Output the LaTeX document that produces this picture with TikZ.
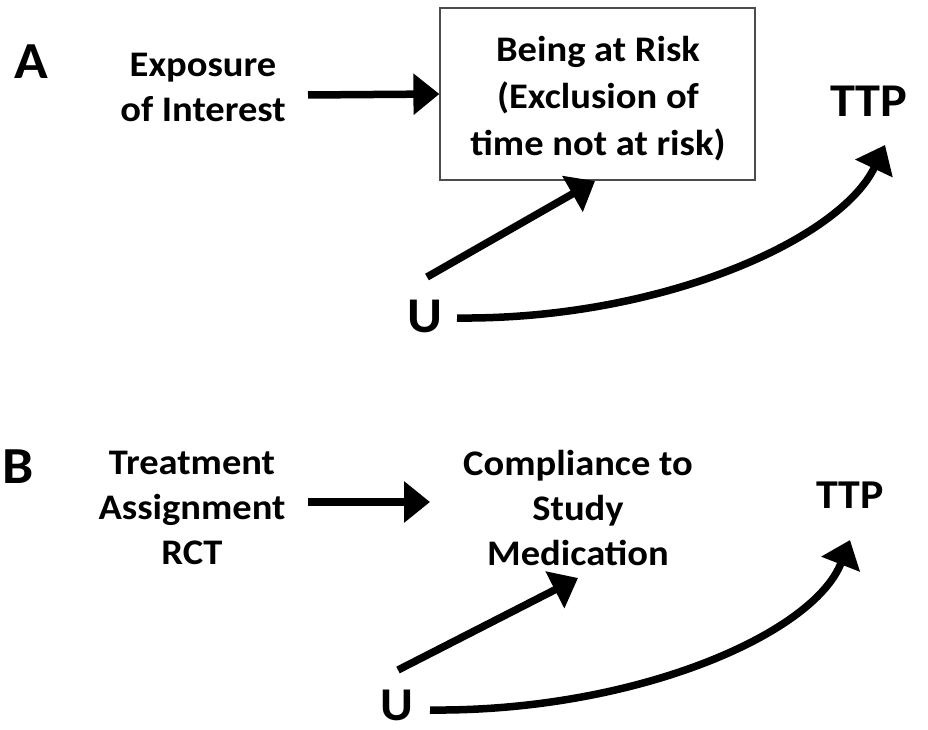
\documentclass[tikz,border=0pt]{standalone}
\usepackage{fontspec}
\setmainfont{Carlito}[FakeStretch=1.07]
\usetikzlibrary{arrows.meta}
\begin{document}
\begin{tikzpicture}[x=1pt,y=-1pt,
  body/.style={font=\bfseries\fontsize{36}{45}\selectfont, align=center, inner sep=0pt, anchor=base},
  panel/.style={font=\bfseries\fontsize{52}{60}\selectfont, inner sep=0pt, anchor=base},
  var/.style={font=\bfseries\fontsize{50}{60}\selectfont, inner sep=0pt, anchor=base},
  arr/.style={line width=7.5pt, -{Triangle[length=26pt,width=40pt]}},
  riskbox/.style={draw=black!70, line width=1.2pt, minimum width=315pt, minimum height=172pt, inner sep=0pt}
]
\useasboundingbox (0,0) rectangle (928,730);
% Panel A
\node[panel] (lA) at (31,79) {A};
\node[body] (expo) at (203,122) {Exposure\\of Interest};
\node[riskbox] (risk) at (597.5,94) {};
\node[body, font=\bfseries\fontsize{36}{47}\selectfont] (risktxt) at (598,156) {Being at Risk\\(Exclusion of\\time not at risk)};
\node[var, font=\bfseries\fontsize{47}{56}\selectfont] (ttpA) at (869,117) {TTP};
\node[var] (uA) at (425,332) {U};
\coordinate (a1s) at (308,95);
\coordinate (ua1) at (427,277);
\coordinate (ra) at (595,181);
\coordinate (ua2) at (457,318);
\coordinate (ta) at (885,145);
\draw[arr] (a1s) -- (risk.west);
\draw[arr] (ua1) -- (ra);
\draw[arr] (ua2) .. controls (660,320) and (840,240) .. (ta);
% Panel B
\node[panel] (lB) at (18,483) {B};
\node[body] (treat) at (192,564) {Treatment\\Assignment\\RCT};
\node[body] (comp) at (578,565) {Compliance to\\Study\\Medication};
\node[var, font=\bfseries\fontsize{41}{50}\selectfont] (ttpB) at (850,508) {TTP};
\node[var, font=\bfseries\fontsize{47}{56}\selectfont] (uB) at (397,720) {U};
\coordinate (b1s) at (308,502);
\coordinate (b1e) at (430,502);
\coordinate (ub1) at (398,670);
\coordinate (cb) at (578,578);
\coordinate (ub2) at (430,710);
\coordinate (tb) at (850,540);
\draw[arr] (b1s) -- (b1e);
\draw[arr] (ub1) -- (cb);
\draw[arr] (ub2) .. controls (633,712) and (813,635) .. (tb);
\end{tikzpicture}
\end{document}
